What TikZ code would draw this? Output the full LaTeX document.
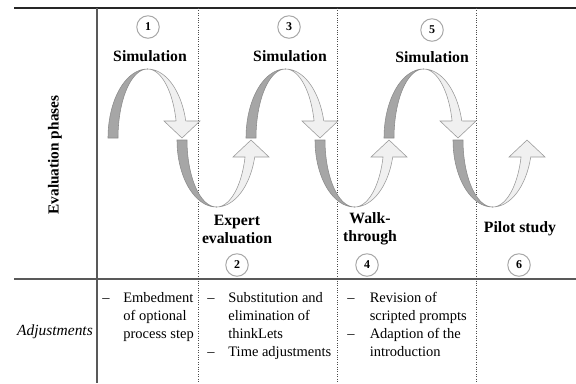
\documentclass[tikz,border=0pt]{standalone}
\usepackage{fontspec}
\setmainfont{Liberation Serif}
\usepackage{array}

\begin{document}
\begin{tikzpicture}[
    x=0.025cm, y=-0.025cm,
    heading/.style={font=\fontsize{11.2}{12.8}\selectfont\bfseries, align=center, inner sep=0pt},
    numcircle/.style={circle, draw=black!35, line width=0.7pt, minimum size=16pt,
        inner sep=0pt, font=\fontsize{8.5}{9}\selectfont\bfseries},
    listbox/.style={anchor=north west, inner sep=0pt,
        font=\fontsize{10.3}{12.8}\selectfont},
    darkband/.style={fill=black!35, draw=black!45, line width=0.4pt},
    lightband/.style={fill=black!6, draw=black!40, line width=0.4pt},
    rule/.style={line width=0.8pt, black!65},
    divider/.style={densely dotted, line width=0.7pt, black!70}
]
    \useasboundingbox (0,0) rectangle (576,383);
    \draw[line width=1.1pt, black!85] (14,8) -- (576,8);
    \draw[rule] (14,279) -- (576,279);
    \draw[rule] (97,8) -- (97,383);
    \foreach \dx in {198,337,476}
        \draw[divider] (\dx,8) -- (\dx,383);

    \node[rotate=90, font=\fontsize{10.9}{12}\selectfont\bfseries] (phases) at (55,155) {Evaluation phases};
    \node[font=\fontsize{11}{12}\selectfont\itshape] (adjust) at (55,332) {Adjustments};

    \foreach \cx in {147.5,285.5,423.5} {
        \draw[darkband] plot[domain=180:90, samples=30] ({\cx+39.5*cos(\x)}, {138-69*sin(\x)})
            -- plot[domain=90:180, samples=30] ({\cx+29.5*cos(\x)}, {138-69*sin(\x)}) -- cycle;
        \draw[lightband] plot[domain=90:14.3, samples=30] ({\cx+39.5*cos(\x)}, {138-69*sin(\x)})
            -- (\cx+52.5,121) -- (\cx+34.5,138) -- (\cx+16.5,121)
            -- plot[domain=14.3:90, samples=30] ({\cx+29.5*cos(\x)}, {138-69*sin(\x)}) -- cycle;
    }
    \foreach \cx in {216.5,354.5,492.5} {
        \draw[darkband] plot[domain=180:90, samples=30] ({\cx+39.5*cos(\x)}, {140+67*sin(\x)})
            -- plot[domain=90:180, samples=30] ({\cx+29.5*cos(\x)}, {140+67*sin(\x)}) -- cycle;
        \draw[lightband] plot[domain=90:14.7, samples=30] ({\cx+39.5*cos(\x)}, {140+67*sin(\x)})
            -- (\cx+52.5,157) -- (\cx+34.5,140) -- (\cx+16.5,157)
            -- plot[domain=14.7:90, samples=30] ({\cx+29.5*cos(\x)}, {140+67*sin(\x)}) -- cycle;
    }

    \node[numcircle] (num1) at (148,27) {1};
    \node[numcircle] (num3) at (289,27) {3};
    \node[numcircle] (num5) at (432,30) {5};
    \node[heading] (sim1) at (150,56) {Simulation};
    \node[heading] (sim3) at (290,56) {Simulation};
    \node[heading] (sim5) at (432,57) {Simulation};

    \node[heading] (expert) at (237,229) {Expert\\evaluation};
    \node[heading] (walk) at (370,229) {Walk-\\through};
    \node[heading] (pilot) at (520,229) {Pilot study};
    \node[numcircle] (num2) at (237,265) {2};
    \node[numcircle] (num4) at (367,265) {4};
    \node[numcircle] (num6) at (519,265) {6};

    \node[listbox] (adj1) at (102,290) {\begin{tabular}{@{}p{15pt}@{}l@{}}
        -- & Embedment\\ & of optional\\ & process step\end{tabular}};
    \node[listbox] (adj2) at (207,290) {\begin{tabular}{@{}p{15pt}@{}l@{}}
        -- & Substitution and\\ & elimination of\\ & thinkLets\\ -- & Time adjustments\end{tabular}};
    \node[listbox] (adj3) at (347,290) {\begin{tabular}{@{}p{16pt}@{}l@{}}
        -- & Revision of\\ & scripted prompts\\ -- & Adaption of the\\ & introduction\end{tabular}};
\end{tikzpicture}
\end{document}
